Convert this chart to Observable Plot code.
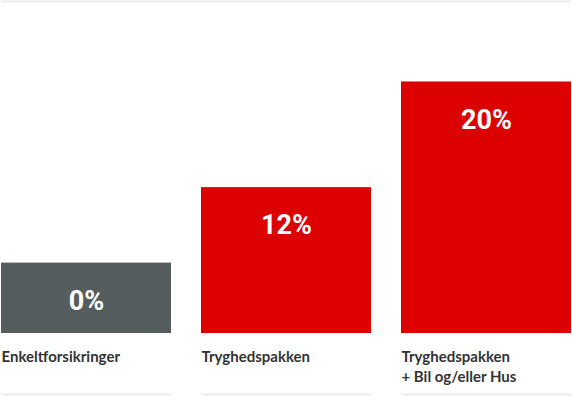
<!DOCTYPE html>
<html>
<head>
<meta charset="utf-8">
<script src="https://cdn.jsdelivr.net/npm/d3@7"></script>
<script src="https://cdn.jsdelivr.net/npm/@observablehq/plot@0.6"></script>
<style>
  html, body { margin: 0; padding: 0; background: #fff; }
  #chart svg { display: block; }
</style>
</head>
<body>
<div id="chart"></div>
<script>
const categories = ["Enkeltforsikringer", "Tryghedspakken", "Tryghedspakken\n+ Bil og/eller Hus"];
const discountLabels = ["0%", "12%", "20%"];
const barSize = [28, 58, 100];
const barColors = ["#555d5f", "#dd0000", "#dd0000"];

const data = categories.map((c, i) => ({
  cat: c, label: discountLabels[i], size: barSize[i], color: barColors[i]
}));

const chart = Plot.plot({
  width: 572,
  height: 396,
  marginTop: 1,
  marginBottom: 63,
  marginLeft: 1,
  marginRight: 1,
  x: { domain: categories, paddingInner: 0.15, paddingOuter: 0, axis: null },
  y: { domain: [0, 132], axis: null },
  style: { fontFamily: "Lato, sans-serif", background: "#fff" },
  marks: [
    Plot.ruleY([132], { stroke: "#ececec", strokeWidth: 2 }),
    Plot.barY(data, { x: "cat", y: "size", fill: "color" }),
    Plot.text(data, {
      x: "cat", y: "size", text: "label", dy: 38,
      fill: "#fff", fontSize: 27, fontWeight: "bold",
      fontFamily: "Roboto, sans-serif"
    }),
    Plot.text(data, {
      x: "cat", y: 0, text: "cat", dy: 14, dx: -85,
      textAnchor: "start", lineAnchor: "top", lineHeight: 1.35,
      fill: "#333", fontSize: 15, fontWeight: "bold"
    }),
    Plot.tickY(data, { x: "cat", y: 0, dy: 61, stroke: "#ececec", strokeWidth: 2 })
  ]
});
document.getElementById("chart").appendChild(chart);
</script>
</body>
</html>
